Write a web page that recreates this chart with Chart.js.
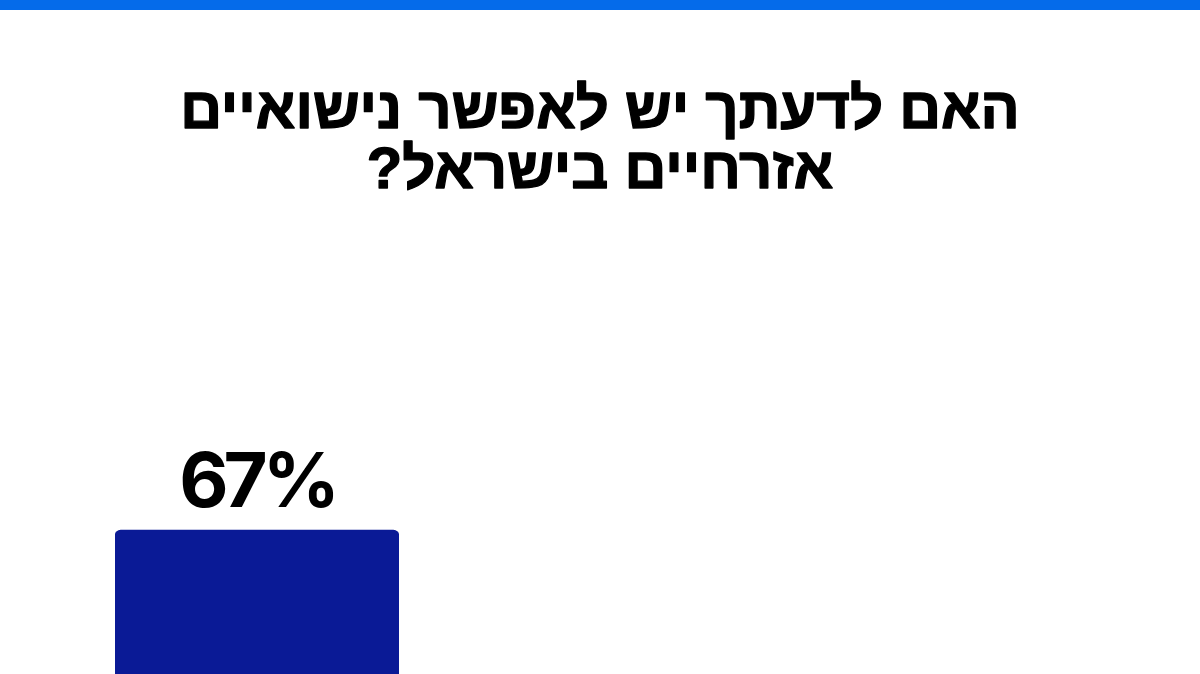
<!DOCTYPE html>
<html lang="he">
<head>
<meta charset="utf-8">
<script src="https://cdn.jsdelivr.net/npm/chart.js@4.4.1/dist/chart.umd.min.js"></script>
<style>
  html, body { margin: 0; padding: 0; width: 1200px; height: 674px; overflow: hidden; background: #fff; }
  #stripe { height: 10px; background: #056bea; }
  #wrap { position: relative; width: 1200px; height: 1160px; }
  canvas { direction: rtl; }
</style>
</head>
<body>
<div id="stripe"></div>
<div id="wrap"><canvas id="myChart"></canvas></div>
<script>
const titleLines = ["האם לדעתך יש לאפשר נישואיים", "אזרחיים בישראל?"];
const categories = ["כן"];
const shares = [67];

// headline across the whole canvas (the built-in title would be squeezed into the chart area)
const headline = {
  id: "headline",
  afterDraw(chart, args, opts) {
    const ctx = chart.ctx;
    ctx.save();
    ctx.direction = "rtl";
    ctx.font = "bold 58px 'Liberation Sans'";
    ctx.fillStyle = "#000";
    ctx.strokeStyle = "#000";
    ctx.lineWidth = 1.4;
    ctx.lineJoin = "round";
    ctx.textAlign = "center";
    ctx.textBaseline = "alphabetic";
    opts.lines.forEach((line, i) => {
      ctx.fillText(line, chart.width / 2, 118 + i * 60);
      ctx.strokeText(line, chart.width / 2, 118 + i * 60);
    });
    ctx.restore();
  },
};

// draws the percentage above each bar
const valueLabels = {
  id: "valueLabels",
  afterDatasetsDraw(chart) {
    const ctx = chart.ctx;
    const meta = chart.getDatasetMeta(0);
    ctx.save();
    ctx.direction = "ltr";
    ctx.font = "bold 76px Inter";
    ctx.letterSpacing = "-5px";
    ctx.fillStyle = "#000";
    ctx.textAlign = "center";
    ctx.textBaseline = "alphabetic";
    meta.data.forEach((bar, i) => {
      ctx.fillText(shares[i] + "%", bar.x, bar.y - 23);
    });
    ctx.restore();
  },
};

const chartConfig = () => ({
  type: "bar",
  data: {
    labels: categories,
    datasets: [
      {
        data: shares,
        backgroundColor: "#0a1a96",
        borderRadius: { topLeft: 6, topRight: 6 },
        borderSkipped: "bottom",
        barPercentage: 1,
        categoryPercentage: 1,
      },
    ],
  },
  options: {
    responsive: true,
    maintainAspectRatio: false,
    animation: false,
    layout: { padding: { left: 115, right: 801, top: 205, bottom: 0 } },
    scales: {
      x: { display: false },
      y: { display: false, min: 0, max: 100 },
    },
    plugins: {
      legend: { display: false },
      tooltip: { enabled: false },
      title: { display: false },
      headline: { lines: titleLines },
    },
  },
  plugins: [headline, valueLabels],
});

new Chart(document.getElementById("myChart"), chartConfig());
</script>
</body>
</html>
